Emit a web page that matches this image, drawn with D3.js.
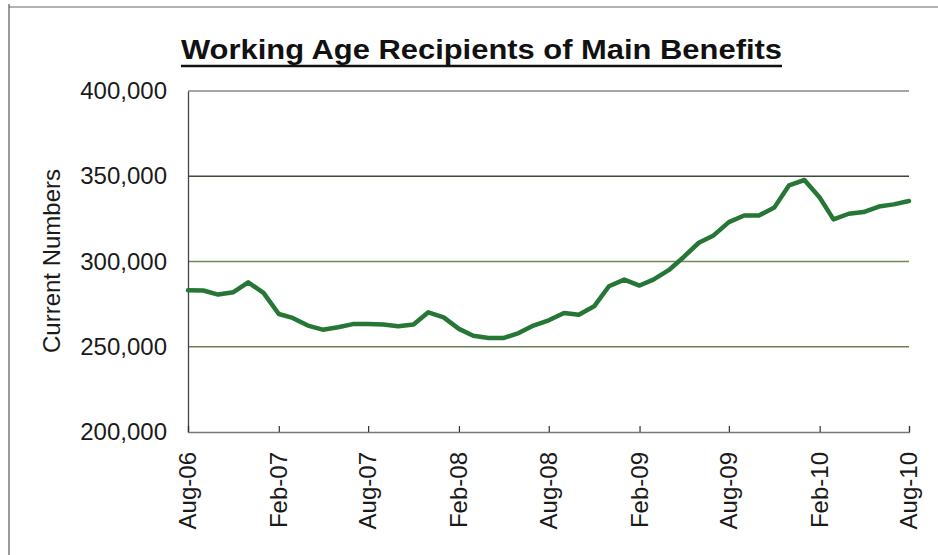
<!DOCTYPE html>
<html>
<head>
<meta charset="utf-8">
<script src="https://cdn.jsdelivr.net/npm/d3@7"></script>
<style>
  body { margin: 0; background: #fff; }
  svg { display: block; font-family: Arial, "Liberation Sans", sans-serif; }
</style>
</head>
<body>
<svg width="938" height="555"></svg>
<script>
const svg = d3.select("svg");

// monthly counts, Aug-06 .. Aug-10
const startMonth = new Date(2006, 7, 1);
const recipients = [
  283100, 283000, 280600, 282000, 287800, 281600, 269200, 266900, 262400, 260000,
  261400, 263300, 263300, 263000, 262000, 263000, 270200, 267200, 260500, 256500,
  255100, 255100, 258000, 262400, 265500, 269800, 268800, 273700, 285500, 289400,
  285900, 289400, 294900, 302500, 311000, 315300, 323100, 327000, 327000, 331600,
  344700, 347800, 337500, 324700, 328000, 329000, 332200, 333500, 335500
];
const yTicks = [200000, 250000, 300000, 350000, 400000];
const xTickLabels = ["Aug-06", "Feb-07", "Aug-07", "Feb-08", "Aug-08", "Feb-09", "Aug-09", "Feb-10", "Aug-10"];

const months = d3.timeMonth.range(startMonth, d3.timeMonth.offset(startMonth, recipients.length));
const data = months.map((m, i) => ({ date: m, value: recipients[i] }));
const parseLabel = d3.timeParse("%b-%y");
const fmtLabel = d3.timeFormat("%b-%y");

const plotL = 188, plotR = 909, plotT = 91, plotB = 432;

const x = d3.scaleTime().domain([months[0], months[months.length - 1]]).range([plotL, plotR]);
const y = d3.scaleLinear().domain([200000, 400000]).range([plotB, plotT]);

// scan frame edges
svg.append("line").attr("x1", 9).attr("x2", 9).attr("y1", 4).attr("y2", 555)
  .attr("stroke", "#555").attr("stroke-width", 1.2);
svg.append("line").attr("x1", 9).attr("x2", 938).attr("y1", 7).attr("y2", 7)
  .attr("stroke", "#666").attr("stroke-width", 1.2);

// title (the print is wider than Arial, so stretch to the scanned width)
const title = svg.append("text")
  .attr("x", 181).attr("y", 59)
  .attr("font-size", 27).attr("font-weight", "bold")
  .attr("fill", "#111")
  .attr("textLength", 601)
  .attr("lengthAdjust", "spacingAndGlyphs")
  .text("Working Age Recipients of Main Benefits");
const tb = title.node().getBBox();
svg.append("line")
  .attr("x1", tb.x).attr("x2", tb.x + tb.width)
  .attr("y1", 66).attr("y2", 66)
  .attr("stroke", "#111").attr("stroke-width", 2.5);

// horizontal gridlines
const gridColor = { 400000: "#8a8a8a", 350000: "#3d4a35", 300000: "#6f8a55", 250000: "#6f7f55" };
svg.append("g").selectAll("line")
  .data(yTicks.filter(d => d > 200000))
  .join("line")
  .attr("x1", plotL).attr("x2", plotR)
  .attr("y1", d => y(d)).attr("y2", d => y(d))
  .attr("stroke", d => gridColor[d])
  .attr("stroke-width", 1.3);

// y axis
const yAxis = svg.append("g")
  .attr("transform", `translate(${plotL},0)`)
  .call(d3.axisLeft(y).tickValues(yTicks).tickSize(0).tickPadding(21).tickFormat(d3.format(",")));
yAxis.select(".domain").attr("stroke", "#444").attr("stroke-width", 1.3);
yAxis.selectAll("text").attr("font-size", 24).attr("fill", "#1a1a1a");

// x axis with inward ticks
const xAxis = svg.append("g")
  .attr("transform", `translate(0,${plotB})`)
  .call(d3.axisTop(x).tickValues(xTickLabels.map(parseLabel)).tickSize(6).tickFormat(() => ""));
xAxis.select(".domain").attr("stroke", "#777").attr("stroke-width", 1.3);
xAxis.selectAll(".tick line").attr("stroke", "#333").attr("stroke-width", 1.2);

svg.append("g").selectAll("text")
  .data(xTickLabels.map(parseLabel))
  .join("text")
  .attr("transform", d => `translate(${x(d) + 8},${plotB + 20}) rotate(-90)`)
  .attr("text-anchor", "end")
  .attr("font-size", 24)
  .attr("fill", "#1a1a1a")
  .text(d => fmtLabel(d));

// y title
svg.append("text")
  .attr("transform", "translate(60,261) rotate(-90)")
  .attr("text-anchor", "middle")
  .attr("font-size", 24)
  .attr("fill", "#1a1a1a")
  .text("Current Numbers");

// the series
const line = d3.line()
  .x(d => x(d.date))
  .y(d => y(d.value));

svg.append("path")
  .datum(data)
  .attr("d", line)
  .attr("fill", "none")
  .attr("stroke", "#267636")
  .attr("stroke-width", 4.5)
  .attr("stroke-linejoin", "round")
  .attr("stroke-linecap", "round");
</script>
</body>
</html>
